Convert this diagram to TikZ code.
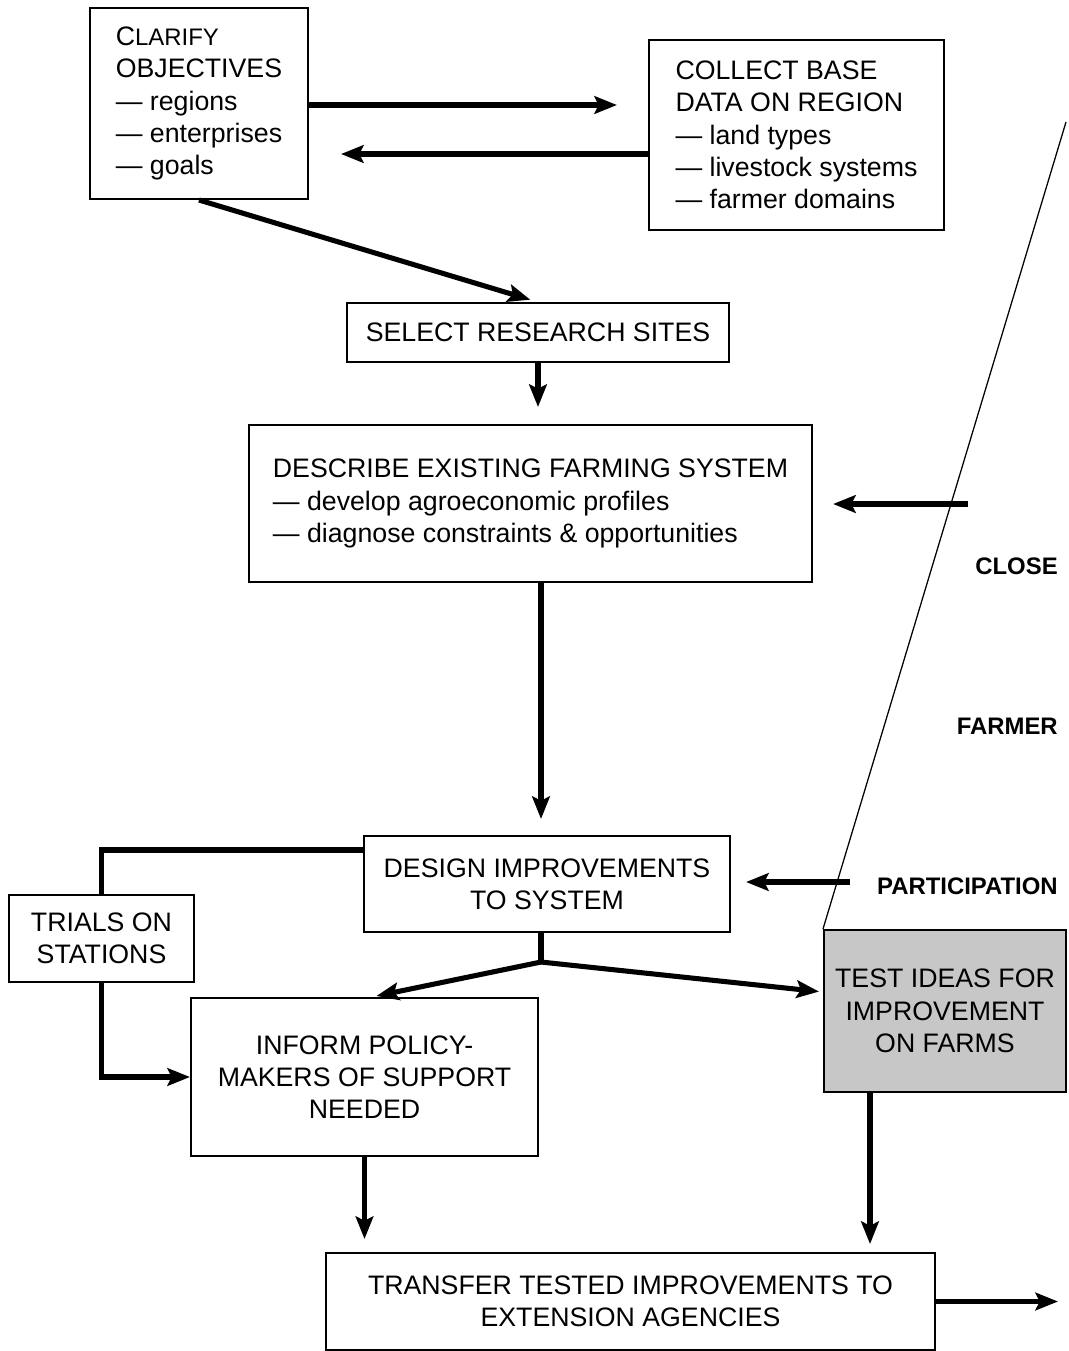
\documentclass[tikz,border=0pt]{standalone}
\usepackage{fontspec}
\setmainfont{Liberation Sans}
\usetikzlibrary{arrows.meta,calc}
\begin{document}
\begin{tikzpicture}[x=0.025cm,y=-0.025cm,
    box/.style={draw,line width=1.4pt,inner sep=0pt,font=\fontsize{19}{23}\selectfont},
    arr/.style={line width=3.6pt,-{Stealth[length=16pt,width=12.5pt,inset=3pt]}},
    link/.style={line width=3.6pt},
    side/.style={anchor=east,inner sep=0pt,font=\fontsize{17}{19}\selectfont\bfseries}]
    \useasboundingbox (0,0) rectangle (1068,1351);
    \node[box,minimum width=5.45cm,minimum height=4.775cm,align=left] (clarify) at (199,103.5)
        {C{\fontsize{17}{23}\selectfont LARIFY}\\OBJECTIVES\\--- regions\\--- enterprises\\--- goals};
    \node[box,minimum width=7.375cm,minimum height=4.75cm,align=left] (collect) at (796.5,135)
        {COLLECT BASE\\DATA ON REGION\\--- land types\\--- livestock systems\\--- farmer domains};
    \node[box,minimum width=9.55cm,minimum height=1.475cm] (select) at (538,332.5) {SELECT RESEARCH SITES};
    \node[box,minimum width=14.075cm,minimum height=3.925cm,align=left] (describe) at (530.5,503.5)
        {DESCRIBE EXISTING FARMING SYSTEM\\--- develop agroeconomic profiles\\--- diagnose constraints \& opportunities};
    \node[box,minimum width=9.15cm,minimum height=2.4cm,align=center] (design) at (547,884)
        {DESIGN IMPROVEMENTS\\TO SYSTEM};
    \node[box,minimum width=4.625cm,minimum height=2.175cm,align=center] (trials) at (101.5,938.5)
        {TRIALS ON\\STATIONS};
    \node[box,minimum width=8.675cm,minimum height=3.95cm,align=center] (inform) at (364.5,1077)
        {INFORM POLICY-\\MAKERS OF SUPPORT\\NEEDED};
    \node[box,fill=black!22,minimum width=6.05cm,minimum height=4.05cm,align=center] (test) at (945,1011)
        {TEST IDEAS FOR\\IMPROVEMENT\\ON FARMS};
    \node[box,minimum width=15.225cm,minimum height=2.425cm,align=center] (transfer) at (630.5,1301.5)
        {TRANSFER TESTED IMPROVEMENTS TO\\EXTENSION AGENCIES};
    \node[side] (close) at (1058,566) {CLOSE};
    \node[side] (farmer) at (1058,726) {FARMER};
    \node[side] (partic) at (1058,886) {PARTICIPATION};
    \coordinate (spine) at (541,0);
    \coordinate (fork) at (541,962);
    \coordinate (dIn) at (968,504);
    \coordinate (pIn) at (850,882);
    \coordinate (tOut) at (870,0);
    \coordinate (ext) at (1058,1301.5);
    \coordinate (top) at (1066,122);
    \draw[line width=0.9pt] (top) -- (test.north west);
    \draw[arr,shorten >=0.775cm] ($(clarify.east)+(0,1.5)$) -- ($(clarify.east -| collect.west)+(0,1.5)$);
    \draw[arr,shorten >=0.8cm] ($(collect.west)+(0,19)$) -- ($(collect.west -| clarify.east)+(0,19)$);
    \draw[arr,shorten >=0.2cm] (clarify.south) -- (select.north);
    \draw[arr,shorten >=0.425cm] (select.south) -- (select.south |- describe.north);
    \draw[arr,shorten >=0.5cm] (dIn) -- (dIn -| describe.east);
    \draw[arr,shorten >=0.4cm] (describe.south -| spine) -- (design.north -| spine);
    \draw[arr,shorten >=0.375cm] (pIn) -- (pIn -| design.east);
    \draw[link] ($(design.north west)+(0,15)$) -| (trials.north);
    \draw[arr] (trials.south) |- (inform.west);
    \draw[link] (design.south -| spine) -- (fork);
    \draw[arr,shorten >=0.125cm] (fork) -- ($(inform.north)+(7,0)$);
    \draw[arr,shorten >=0.1cm] (fork) -- ($(test.north west)+(0,63)$);
    \draw[arr,shorten >=0.325cm] (inform.south) -- (inform.south |- transfer.north);
    \draw[arr,shorten >=0.2cm] (test.south -| tOut) -- (transfer.north -| tOut);
    \draw[arr] (transfer.east) -- (ext);
\end{tikzpicture}
\end{document}
